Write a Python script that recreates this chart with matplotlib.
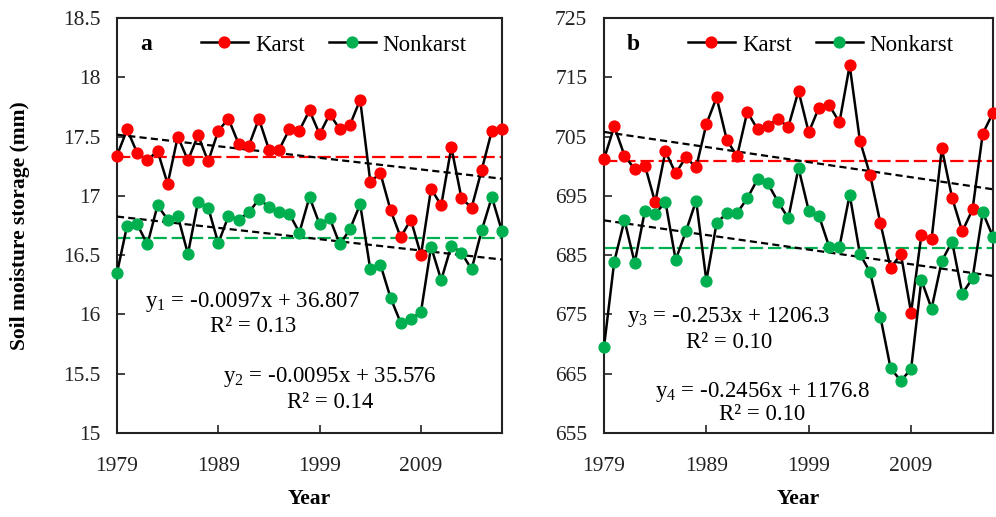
import numpy as np
import matplotlib
matplotlib.use("Agg")
import matplotlib.pyplot as plt
from matplotlib.lines import Line2D

plt.rcParams["font.family"] = ["Liberation Serif", "DejaVu Serif"]
plt.rcParams["mathtext.fontset"] = "custom"
plt.rcParams["mathtext.rm"] = "Liberation Serif"
plt.rcParams["mathtext.it"] = "Liberation Serif:italic"

years = np.arange(1979, 2018)

# Panel a: soil moisture storage, shallow layer (mm)
karst_a = [17.34, 17.56, 17.36, 17.30, 17.38, 17.10, 17.50, 17.30, 17.51, 17.29,
           17.55, 17.65, 17.44, 17.42, 17.65, 17.39, 17.39, 17.56, 17.55, 17.72,
           17.52, 17.69, 17.56, 17.60, 17.81, 17.12, 17.19, 16.88, 16.65, 16.80,
           16.50, 17.06, 16.92, 17.41, 16.98, 16.90, 17.22, 17.55, 17.56]
nonkarst_a = [16.35, 16.75, 16.76, 16.59, 16.92, 16.80, 16.83, 16.51, 16.95, 16.90,
              16.60, 16.83, 16.80, 16.86, 16.97, 16.91, 16.86, 16.85, 16.69, 16.99,
              16.76, 16.81, 16.59, 16.72, 16.93, 16.38, 16.42, 16.14, 15.93, 15.96,
              16.02, 16.57, 16.29, 16.58, 16.52, 16.38, 16.71, 16.99, 16.70]

# Panel b: soil moisture storage, full profile (mm)
karst_b = [701.2, 706.7, 701.8, 699.5, 700.1, 693.9, 702.5, 698.8, 701.5, 699.8,
           707.1, 711.6, 704.4, 701.7, 709.2, 706.2, 706.8, 708.0, 706.6, 712.7,
           705.7, 709.9, 710.3, 707.4, 717.0, 704.3, 698.5, 690.4, 682.8, 685.2,
           675.3, 688.4, 687.7, 703.0, 694.7, 689.0, 692.7, 705.5, 709.0]
nonkarst_b = [669.5, 683.9, 690.9, 683.7, 692.5, 691.9, 694.0, 684.2, 689.0, 694.2,
              680.7, 690.4, 692.1, 692.1, 694.6, 697.8, 697.1, 694.0, 691.2, 699.7,
              692.5, 691.6, 686.4, 686.4, 695.2, 685.2, 682.1, 674.6, 665.9, 663.8,
              665.8, 680.8, 676.0, 684.0, 687.3, 678.5, 681.1, 692.2, 688.1]

xticks = [1979, 1989, 1999, 2009]
yticks_a = [15, 15.5, 16, 16.5, 17, 17.5, 18, 18.5]
yticks_b = [655, 665, 675, 685, 695, 705, 715, 725]

eq_a = [("y$_1$ = -0.0097x + 36.807", "R² = 0.13"),
        ("y$_2$ = -0.0095x + 35.576", "R² = 0.14")]
eq_b = [("y$_3$ = -0.253x + 1206.3", "R² = 0.10"),
        ("y$_4$ = -0.2456x + 1176.8", "R² = 0.10")]

RED = "#ff0000"
GREEN = "#00b050"
FS_TICK = 15.5
FS_TEXT = 16.5
FS_LABEL = 15.5

# axes boxes in pixels: (left, right), shared top/bottom
TOP, BOTTOM = 18, 433
W, H = 996, 517
box_a = (117, 502)
box_b = (604, 993)

fig = plt.figure(figsize=(W / 100, H / 100), dpi=100)


def make_axes(box):
    l, r = box
    return fig.add_axes([l / W, (H - BOTTOM) / H, (r - l) / W, (BOTTOM - TOP) / H])


ax_a = make_axes(box_a)
ax_b = make_axes(box_b)


def to_ax(box, px, py):
    l, r = box
    return (px - l) / (r - l), (BOTTOM - py) / (BOTTOM - TOP)


def draw_panel(ax, box, karst, nonkarst, yticks, letter, eqs, eq_px, fmt):
    x = years
    for vals, col in ((karst, RED), (nonkarst, GREEN)):
        vals = np.asarray(vals)
        ax.plot(x, vals, color="black", lw=1.8, marker="o", ms=7.8,
                mfc=col, mec=col, clip_on=False, zorder=4)
        ax.plot([x[0], x[-1]], [vals.mean()] * 2, color=col, lw=1.6,
                dashes=(6, 2.2), zorder=2)
        k, b = np.polyfit(x, vals, 1)
        ax.plot([x[0], x[-1]], [k * x[0] + b, k * x[-1] + b], color="black",
                lw=1.6, dashes=(3.2, 1.9), zorder=3)

    ax.set_xlim(1979, 2017)
    ax.set_ylim(yticks[0], yticks[-1])
    ax.set_xticks(xticks)
    ax.set_yticks(yticks)
    ax.set_yticklabels([fmt(v) for v in yticks])
    ax.tick_params(direction="in", length=6, width=1.2, labelsize=FS_TICK,
                   top=False, right=False, colors="#222222")
    ax.tick_params(axis="y", pad=12)
    ax.tick_params(axis="x", pad=17)
    for s in ax.spines.values():
        s.set_linewidth(1.5)
        s.set_color("#222222")
    ax.set_xlabel("Year", fontsize=FS_LABEL, fontweight="bold")
    ax.xaxis.set_label_coords(0.5, to_ax(box, 0, 489)[1])

    lx, ly = to_ax(box, box[0] + 23, 45)
    ax.text(lx, ly, letter, transform=ax.transAxes, fontsize=FS_TEXT + 0.5,
            fontweight="bold", va="center", ha="left")

    handles = [Line2D([], [], color="black", lw=1.8, marker="o", ms=7.8,
                      mfc=RED, mec=RED),
               Line2D([], [], color="black", lw=1.8, marker="o", ms=7.8,
                      mfc=GREEN, mec=GREEN)]
    ax.legend(handles, ["Karst", "Nonkarst"], loc="center left",
              bbox_to_anchor=to_ax(box, box[0] + 84, 45), ncol=2,
              frameon=False, fontsize=FS_TEXT, handlelength=2.05,
              handletextpad=0.3, columnspacing=1.05, borderpad=0,
              borderaxespad=0)

    for (eq, r2), (cx, cy1, cy2) in zip(eqs, eq_px):
        ax.text(*to_ax(box, cx, cy1), eq, transform=ax.transAxes,
                fontsize=FS_TEXT, ha="center", va="center")
        ax.text(*to_ax(box, cx, cy2), r2, transform=ax.transAxes,
                fontsize=FS_TEXT, ha="center", va="center")


def fmt_a(v):
    return f"{v:g}"


def fmt_b(v):
    return f"{v:d}"


pos_a = [(253, 302, 327), (330, 377, 403)]
pos_b = [(729, 317, 342), (762, 392, 414)]

draw_panel(ax_a, box_a, karst_a, nonkarst_a, yticks_a, "a", eq_a, pos_a, fmt_a)
draw_panel(ax_b, box_b, karst_b, nonkarst_b, yticks_b, "b", eq_b, pos_b, fmt_b)

fig.text(20 / W, 1 - (TOP + BOTTOM) / 2 / H, "Soil moisture storage (mm)",
         rotation=90, fontsize=FS_LABEL, fontweight="bold",
         ha="center", va="center")

fig.savefig("out.png", dpi=100)
